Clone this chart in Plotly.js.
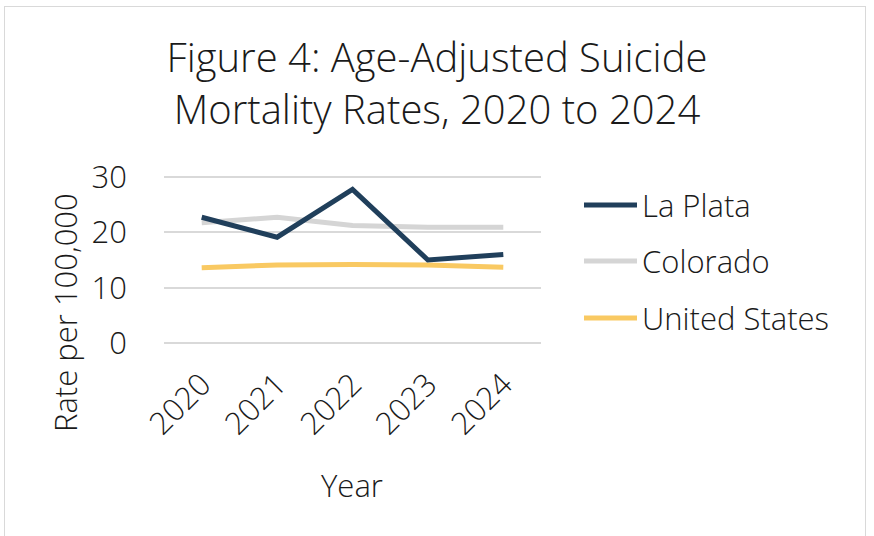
<!DOCTYPE html>
<html>
<head>
<meta charset="utf-8">
<script src="https://cdn.plot.ly/plotly-3.0.1.min.js"></script>
<style>
  html, body { margin: 0; padding: 0; background: #ffffff; }
  #wrap { position: relative; width: 874px; height: 536px; overflow: hidden; }
  #frame { position: absolute; left: 4px; top: 6px; width: 862px; height: 540px;
           border: 1.5px solid #d9d9d9; box-sizing: border-box; pointer-events: none; }
  #chart { position: absolute; left: 0; top: 0; width: 874px; height: 536px; }
</style>
</head>
<body>
<div id="wrap">
  <div id="chart"></div>
  <div id="frame"></div>
</div>
<script>
// Age-adjusted suicide mortality rates per 100,000
const years = ['2020', '2021', '2022', '2023', '2024'];
const seriesNames = ['La Plata', 'Colorado', 'United States'];
const laPlata = [22.7, 19.1, 27.7, 15.0, 16.0];
const colorado = [21.7, 22.7, 21.2, 20.9, 20.9];
const unitedStates = [13.6, 14.1, 14.2, 14.1, 13.7];
const seriesColors = ['#203f5b', '#d5d5d5', '#f9c962'];
const yTicks = [0, 10, 20, 30];

const FONT = '"Open Sans", sans-serif';
const TXT = '#1a1a1a';
const WEIGHT = 300;
const LINE_W = 5;

const W = 874, H = 536;
// y range is padded slightly so the 0 and 30 gridlines are not clipped
const yPad = 0.3;
const plotL = 164, plotR = 541, plotT = 175, plotB = 345;
const pw = plotR - plotL, ph = plotB - plotT;
const px = x => (x - plotL) / pw;
const py = y => (plotB - y) / ph;

const values = [laPlata, colorado, unitedStates];
// draw order: Colorado first, then US, La Plata on top
const order = [1, 2, 0];
const traces = order.map(i => ({
  type: 'scatter',
  mode: 'lines',
  x: years,
  y: values[i],
  name: seriesNames[i],
  line: { color: seriesColors[i], width: LINE_W },
  hoverinfo: 'x+y+name',
  showlegend: false
}));

const txtFont = size => ({ family: FONT, size: size, color: TXT, weight: WEIGHT });

// legend drawn beside the plot
const legendY = [205, 261, 318];
const shapes = [];
const annotations = [];
seriesNames.forEach((name, i) => {
  shapes.push({
    type: 'line', xref: 'paper', yref: 'paper',
    x0: px(584), x1: px(637), y0: py(legendY[i]), y1: py(legendY[i]),
    line: { color: seriesColors[i], width: LINE_W }
  });
  annotations.push({
    xref: 'paper', yref: 'paper', x: px(640), y: py(legendY[i]),
    xanchor: 'left', yanchor: 'middle', showarrow: false,
    text: name, font: txtFont(31)
  });
});

// axis titles
annotations.push({
  xref: 'paper', yref: 'paper', x: px(65), y: py(313),
  xanchor: 'center', yanchor: 'middle', showarrow: false, textangle: -90,
  text: 'Rate per 100,000', font: txtFont(31)
});
annotations.push({
  xref: 'paper', yref: 'paper', x: px(352), y: py(485),
  xanchor: 'center', yanchor: 'middle', showarrow: false,
  text: 'Year', font: txtFont(31)
});

const layout = {
  width: W, height: H,
  margin: { l: plotL, r: W - plotR, t: plotT, b: H - plotB, pad: 0 },
  paper_bgcolor: '#ffffff',
  plot_bgcolor: '#ffffff',
  title: {
    text: 'Figure 4: Age-Adjusted Suicide<br>Mortality Rates, 2020 to 2024',
    font: txtFont(40),
    x: 0.5, xanchor: 'center', xref: 'container',
    y: 1 - 72 / H, yref: 'container', yanchor: 'middle'
  },
  xaxis: {
    type: 'category',
    range: [-0.5, years.length - 0.5],
    showgrid: false, zeroline: false, showline: false,
    ticks: '', tickangle: -45,
    tickfont: txtFont(31),
    ticklabelstandoff: 14,
    fixedrange: true
  },
  yaxis: {
    range: [yTicks[0] - yPad, yTicks[yTicks.length - 1] + yPad],
    tickvals: yTicks,
    ticktext: yTicks.map(String),
    showgrid: true, gridcolor: '#d9d9d9', gridwidth: 2,
    zeroline: false, showline: false, ticks: '',
    tickfont: txtFont(31),
    ticklabelstandoff: 36,
    fixedrange: true
  },
  shapes: shapes,
  annotations: annotations,
  showlegend: false
};

Plotly.newPlot('chart', traces, layout, { displayModeBar: false, staticPlot: true });
</script>
</body>
</html>
